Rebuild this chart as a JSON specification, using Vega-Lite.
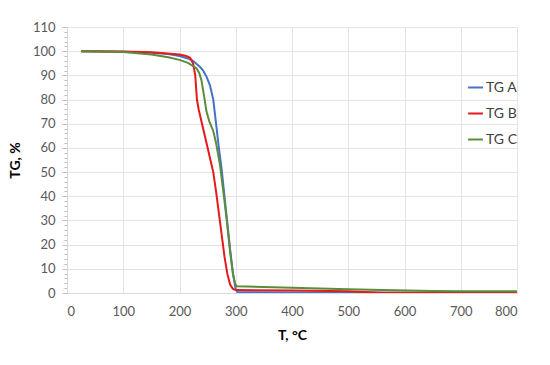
{
  "$schema": "https://vega.github.io/schema/vega-lite/v6.json",
  "autosize": {"type": "none"},
  "width": 450,
  "height": 266,
  "padding": {"left": 67, "top": 27, "right": 33, "bottom": 72},
  "background": "white",
  "config": {
    "font": "Lato",
    "view": {"stroke": null},
    "axis": {"labelFont": "Lato", "titleFont": "Lato"}
  },
  "data": {"values": [
    {"series": "TG A", "T": 25, "TG": 100},
    {"series": "TG A", "T": 100, "TG": 99.8},
    {"series": "TG A", "T": 150, "TG": 99.3},
    {"series": "TG A", "T": 180, "TG": 98.8},
    {"series": "TG A", "T": 200, "TG": 98},
    {"series": "TG A", "T": 215, "TG": 97},
    {"series": "TG A", "T": 224, "TG": 96},
    {"series": "TG A", "T": 236, "TG": 93.6},
    {"series": "TG A", "T": 242, "TG": 92},
    {"series": "TG A", "T": 248, "TG": 89.5},
    {"series": "TG A", "T": 254, "TG": 86},
    {"series": "TG A", "T": 260, "TG": 80},
    {"series": "TG A", "T": 265, "TG": 70},
    {"series": "TG A", "T": 270, "TG": 60},
    {"series": "TG A", "T": 275, "TG": 51},
    {"series": "TG A", "T": 280, "TG": 40},
    {"series": "TG A", "T": 285, "TG": 29},
    {"series": "TG A", "T": 290, "TG": 18},
    {"series": "TG A", "T": 295, "TG": 8},
    {"series": "TG A", "T": 300, "TG": 1.5},
    {"series": "TG A", "T": 303, "TG": 0.3},
    {"series": "TG A", "T": 400, "TG": 0.2},
    {"series": "TG A", "T": 500, "TG": 0.2},
    {"series": "TG A", "T": 600, "TG": 0.1},
    {"series": "TG A", "T": 800, "TG": 0.1},
    {"series": "TG B", "T": 25, "TG": 100},
    {"series": "TG B", "T": 100, "TG": 99.9},
    {"series": "TG B", "T": 150, "TG": 99.6},
    {"series": "TG B", "T": 200, "TG": 98.6},
    {"series": "TG B", "T": 212, "TG": 98},
    {"series": "TG B", "T": 219, "TG": 97.3},
    {"series": "TG B", "T": 224, "TG": 95},
    {"series": "TG B", "T": 228, "TG": 90},
    {"series": "TG B", "T": 231, "TG": 80},
    {"series": "TG B", "T": 234, "TG": 76},
    {"series": "TG B", "T": 240, "TG": 70},
    {"series": "TG B", "T": 248, "TG": 62},
    {"series": "TG B", "T": 255, "TG": 55},
    {"series": "TG B", "T": 260, "TG": 50},
    {"series": "TG B", "T": 265, "TG": 42},
    {"series": "TG B", "T": 270, "TG": 33},
    {"series": "TG B", "T": 275, "TG": 24},
    {"series": "TG B", "T": 280, "TG": 15},
    {"series": "TG B", "T": 285, "TG": 8},
    {"series": "TG B", "T": 290, "TG": 3.5},
    {"series": "TG B", "T": 295, "TG": 1.7},
    {"series": "TG B", "T": 300, "TG": 1.2},
    {"series": "TG B", "T": 400, "TG": 1.0},
    {"series": "TG B", "T": 500, "TG": 0.7},
    {"series": "TG B", "T": 560, "TG": 0.1},
    {"series": "TG B", "T": 650, "TG": 0.1},
    {"series": "TG B", "T": 800, "TG": 0.2},
    {"series": "TG C", "T": 25, "TG": 100},
    {"series": "TG C", "T": 100, "TG": 99.7},
    {"series": "TG C", "T": 150, "TG": 98.6},
    {"series": "TG C", "T": 180, "TG": 97.5},
    {"series": "TG C", "T": 200, "TG": 96.4},
    {"series": "TG C", "T": 215, "TG": 95.2},
    {"series": "TG C", "T": 230, "TG": 93},
    {"series": "TG C", "T": 235, "TG": 91},
    {"series": "TG C", "T": 239, "TG": 88},
    {"series": "TG C", "T": 244, "TG": 81},
    {"series": "TG C", "T": 248, "TG": 75},
    {"series": "TG C", "T": 253, "TG": 71},
    {"series": "TG C", "T": 260, "TG": 67},
    {"series": "TG C", "T": 265, "TG": 62},
    {"series": "TG C", "T": 272, "TG": 53},
    {"series": "TG C", "T": 280, "TG": 38},
    {"series": "TG C", "T": 285, "TG": 28},
    {"series": "TG C", "T": 290, "TG": 17},
    {"series": "TG C", "T": 295, "TG": 8},
    {"series": "TG C", "T": 299, "TG": 3.5},
    {"series": "TG C", "T": 302, "TG": 2.8},
    {"series": "TG C", "T": 400, "TG": 2.2},
    {"series": "TG C", "T": 500, "TG": 1.5},
    {"series": "TG C", "T": 560, "TG": 1.2},
    {"series": "TG C", "T": 650, "TG": 0.8},
    {"series": "TG C", "T": 700, "TG": 0.7},
    {"series": "TG C", "T": 800, "TG": 0.7}
  ]},
  "mark": {"type": "line", "strokeWidth": 2, "clip": true},
  "encoding": {
    "x": {
      "field": "T", "type": "quantitative",
      "scale": {"domain": [0, 800], "nice": false},
      "axis": {
        "title": "T, °C", "values": [0, 100, 200, 300, 400, 500, 600, 700, 800],
        "titleFontSize": 14, "titleFontWeight": "bold", "titleColor": "#000000", "titlePadding": 10,
        "labelFontSize": 13, "labelColor": "#595959", "labelPadding": 12,
        "domainColor": "#d9d9d9", "tickColor": "#d9d9d9", "tickSize": 0,
        "gridColor": "#e3e3e3", "gridWidth": 1
      }
    },
    "y": {
      "field": "TG", "type": "quantitative",
      "scale": {"domain": [0, 110], "nice": false},
      "axis": {
        "title": "TG, %",
        "values": [0,2,4,6,8,10,12,14,16,18,20,22,24,26,28,30,32,34,36,38,40,42,44,46,48,50,52,54,56,58,60,62,64,66,68,70,72,74,76,78,80,82,84,86,88,90,92,94,96,98,100,102,104,106,108,110],
        "labelExpr": "datum.value % 10 === 0 ? datum.label : ''",
        "gridOpacity": {"expr": "datum.value % 10 === 0 ? 1 : 0"},
        "tickSize": {"expr": "datum.value % 10 === 0 ? 5 : 3"},
        "titleFontSize": 14, "titleFontWeight": "bold", "titleColor": "#000000", "titlePadding": 10,
        "labelFontSize": 13, "labelColor": "#595959", "labelPadding": 7,
        "domainColor": "#d9d9d9", "tickColor": "#bfbfbf",
        "gridColor": "#e3e3e3", "gridWidth": 1
      }
    },
    "color": {
      "field": "series", "type": "nominal",
      "scale": {"domain": ["TG A", "TG B", "TG C"], "range": ["#4472C4", "#E41A1C", "#5B8C3A"]},
      "legend": {
        "title": null, "orient": "none", "legendX": 400, "legendY": 52,
        "symbolType": "stroke", "symbolStrokeWidth": 2, "symbolSize": 220,
        "labelFontSize": 14, "labelColor": "#404040", "labelFont": "Lato",
        "rowPadding": 10, "labelOffset": 2
      }
    }
  }
}
